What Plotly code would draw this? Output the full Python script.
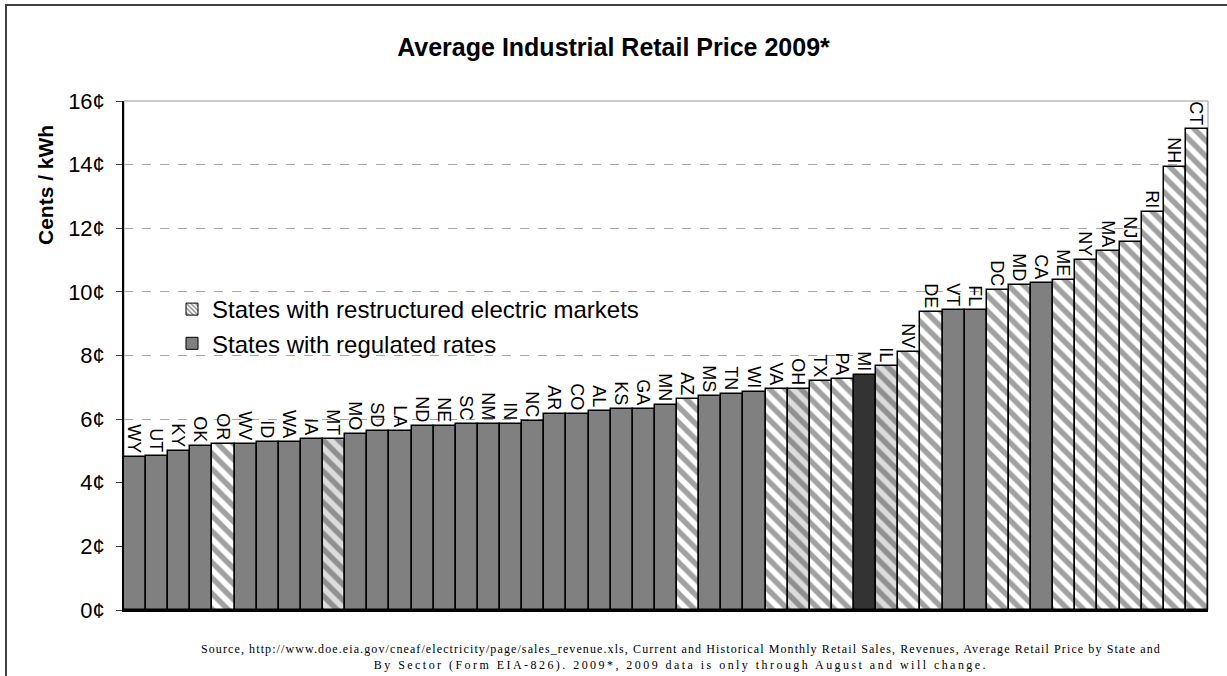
import plotly.graph_objects as go

# ---- data ----
states = ["WY", "UT", "KY", "OK", "OR", "WV", "ID", "WA", "IA", "MT",
          "MO", "SD", "LA", "ND", "NE", "SC", "NM", "IN", "NC", "AR",
          "CO", "AL", "KS", "GA", "MN", "AZ", "MS", "TN", "WI", "VA",
          "OH", "TX", "PA", "MI", "IL", "NV", "DE", "VT", "FL", "DC",
          "MD", "CA", "ME", "NY", "MA", "NJ", "RI", "NH", "CT"]
prices = [4.80, 4.85, 5.01, 5.17, 5.22, 5.22, 5.27, 5.27, 5.38, 5.38,
          5.53, 5.64, 5.64, 5.79, 5.79, 5.84, 5.85, 5.85, 5.95, 6.16,
          6.16, 6.27, 6.32, 6.32, 6.43, 6.64, 6.74, 6.79, 6.85, 6.95,
          6.95, 7.21, 7.26, 7.38, 7.66, 8.10, 9.38, 9.44, 9.44, 10.06,
          10.21, 10.27, 10.37, 11.01, 11.27, 11.56, 12.52, 13.93, 15.13]
# reg = regulated, res = restructured, sus = restructured (grey hatch), hl = highlighted
market = ["reg", "reg", "reg", "reg", "res", "reg", "reg", "reg", "reg", "sus",
          "reg", "reg", "reg", "reg", "reg", "reg", "reg", "reg", "reg", "reg",
          "reg", "reg", "reg", "reg", "reg", "res", "reg", "reg", "reg", "res",
          "sus", "res", "res", "hl", "sus", "res", "res", "reg", "reg", "res",
          "res", "reg", "res", "res", "res", "res", "res", "res", "res"]
y_ticks = [0, 2, 4, 6, 8, 10, 12, 14, 16]
y_ticklabels = [f"{v}¢" for v in y_ticks]

title_text = "<b>Average Industrial Retail Price 2009*</b>"
y_title = "<b>Cents / kWh</b>"
legend_names = ["States with restructured electric markets", "States with regulated rates"]
source_lines = ["Source, http://www.doe.eia.gov/cneaf/electricity/page/sales_revenue.xls, Current and Historical Monthly Retail Sales, Revenues, Average Retail Price by State and",
                "By Sector (Form EIA-826). 2009*, 2009 data is only through August and will change."]
source_spacing = [1.1, 2.45]

# ---- styles ----
GREY = "#808080"
STYLE = {
    "reg": dict(shape="", bg=GREY, fg=GREY, sol=0.5, color=GREY),
    "res": dict(shape="\\", bg="#ffffff", fg=GREY, sol=0.5, color="#ffffff"),
    "sus": dict(shape="\\", bg="#dcdcdc", fg="#6a6a6a", sol=0.5, color="#dcdcdc"),
    "hl": dict(shape="", bg="#333333", fg="#333333", sol=0.5, color="#333333"),
}

W, H = 1227, 676
L, R, T, B = 124, 1227 - 1208, 101, 676 - 610
PW, PH = W - L - R, H - T - B

def px_x(p):
    return (p - L) / PW

def px_y(p):
    return (H - B - p) / PH

fig = go.Figure()

# legend-only traces
fig.add_trace(go.Bar(
    x=[None], y=[None], name=legend_names[0],
    marker=dict(color="#ffffff", line=dict(color="black", width=1),
                pattern=dict(shape="\\", bgcolor="#ffffff", fgcolor="black", size=4, solidity=0.4)),
))
fig.add_trace(go.Bar(
    x=[None], y=[None], name=legend_names[1],
    marker=dict(color=GREY, line=dict(color="black", width=1)),
))

fig.add_trace(go.Bar(
    x=states, y=prices, showlegend=False,
    marker=dict(
        color=[STYLE[m]["color"] for m in market],
        line=dict(color="black", width=1.5),
        pattern=dict(
            shape=[STYLE[m]["shape"] for m in market],
            bgcolor=[STYLE[m]["bg"] for m in market],
            fgcolor=[STYLE[m]["fg"] for m in market],
            solidity=0.5,
            size=11,
        ),
    ),
    texttemplate="%{x}", textposition="outside", textangle=90,
    textfont=dict(family="Liberation Sans, Arial", size=18, color="black"),
    constraintext="none", cliponaxis=False, hoverinfo="x+y",
))

fig.update_layout(
    width=W, height=H,
    margin=dict(l=L, r=R, t=T, b=B, autoexpand=False),
    paper_bgcolor="white", plot_bgcolor="white",
    barmode="overlay", bargap=0,
    font=dict(family="Liberation Sans, Arial", color="black"),
    title=dict(text=title_text, x=0.5, xanchor="center", y=1 - 47 / H, yanchor="middle",
               font=dict(size=25, family="Liberation Sans, Arial", color="black")),
    legend=dict(x=px_x(172), y=px_y(287), xanchor="left", yanchor="top",
                bgcolor="rgba(0,0,0,0)", font=dict(size=24, family="Liberation Sans, Arial"),
                traceorder="normal", itemclick=False),
    showlegend=True,
)

fig.update_xaxes(type="category", showticklabels=False, ticks="", showgrid=False,
                 showline=True, linecolor="black", linewidth=1.5, zeroline=False)
fig.update_yaxes(range=[0, 16], tickvals=y_ticks, ticktext=y_ticklabels,
                 tickfont=dict(size=22, family="Liberation Sans, Arial", color="black"),
                 ticks="outside", ticklen=6, tickcolor="#404040", tickwidth=1,
                 showline=True, linecolor="black", linewidth=1.5,
                 showgrid=True, gridcolor="#a6a6a6", griddash="dash", gridwidth=1,
                 zeroline=False, ticklabelstandoff=7)

# plot-area border (grey) and outer frame
fig.add_shape(type="rect", xref="paper", yref="paper", x0=0, x1=1, y0=0, y1=1,
              line=dict(color="#999999", width=1), layer="below")
fig.add_shape(type="rect", xref="paper", yref="paper",
              x0=px_x(6), x1=px_x(1300), y0=px_y(760), y1=px_y(5),
              line=dict(color="#404040", width=2), layer="above")

fig.add_annotation(text=y_title, xref="paper", yref="paper", x=px_x(45), y=px_y(185),
                   xanchor="center", yanchor="middle", textangle=-90, showarrow=False,
                   font=dict(size=21, family="Liberation Sans, Arial", color="black"))

fig.add_annotation(
    text="<br>".join(f'<span style="letter-spacing:{sp}px">{s}</span>'
                     for s, sp in zip(source_lines, source_spacing)),
    xref="paper", yref="paper", x=px_x(681), y=px_y(657),
    xanchor="center", yanchor="middle", showarrow=False, align="center",
    font=dict(size=12, family="Liberation Serif, Times New Roman", color="black"))

fig.write_html("out.html", config={"displayModeBar": False},
               post_script="document.body.style.margin='0px';")
